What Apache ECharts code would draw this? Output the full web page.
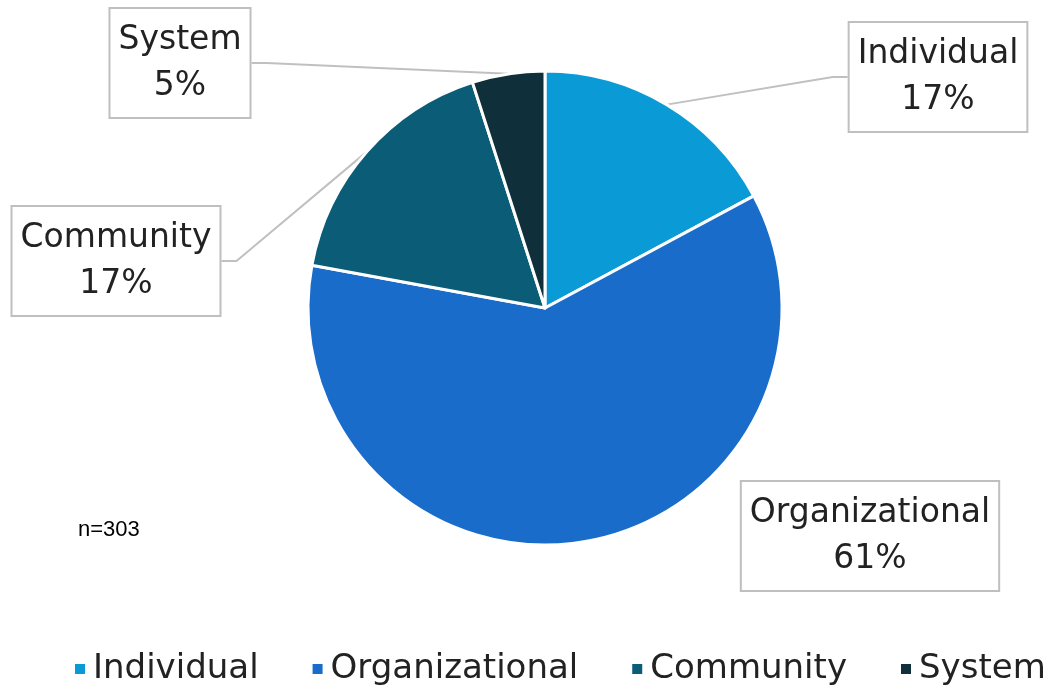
<!DOCTYPE html>
<html><head><meta charset="utf-8">
<script src="https://cdn.jsdelivr.net/npm/echarts@6/dist/echarts.min.js"></script>
<style>html,body{margin:0;padding:0;background:#fff}#c{width:1060px;height:695px}</style>
</head><body><div id="c"></div>
<script>
const categories = ['Individual', 'Organizational', 'Community', 'System'];
const counts = [52, 184, 52, 15];
const colors = ['#0a9bd6', '#1a6ccb', '#0b5c77', '#0f2f3b'];
const sampleNote = 'n=303';

// label box centres (layout, not data)
const labelCenters = {
  Individual: [938, 77],
  Organizational: [870, 536],
  Community: [116, 261],
  System: [180, 63]
};

const chart = echarts.init(document.getElementById('c'));
const FONT = '"DejaVu Sans", "Noto Sans", sans-serif';
chart.setOption({
  animation: false,
  color: colors,
  legend: {
    bottom: 4,
    left: 68,
    icon: 'rect',
    itemWidth: 12,
    itemHeight: 12,
    itemGap: 52,
    data: categories,
    textStyle: { fontSize: 34, fontFamily: FONT, color: '#222', padding: [0, 0, 0, 2] }
  },
  graphic: [{
    type: 'text', left: 78, top: 519,
    style: { text: sampleNote, font: '22px "Liberation Sans", Arial, sans-serif', fill: '#000' }
  }],
  series: [{
    type: 'pie',
    center: [545, 308],
    radius: 237,
    startAngle: 90,
    clockwise: true,
    percentPrecision: 0,
    itemStyle: { borderColor: '#fff', borderWidth: 3 },
    label: {
      show: true,
      formatter: '{b}\n{d}%',
      fontSize: 33,
      lineHeight: 46,
      fontFamily: FONT,
      color: '#222',
      backgroundColor: '#fff',
      borderColor: '#bfbfbf',
      borderWidth: 2,
      padding: [8, 8, 8, 8],
      align: 'center'
    },
    labelLine: { show: true, length: 15, length2: 15, lineStyle: { color: '#c0c0c0', width: 2 } },
    labelLayout: function (p) {
      const c = labelCenters[categories[p.dataIndex]];
      return { x: c[0], y: c[1], align: 'center', verticalAlign: 'middle' };
    },
    data: categories.map((n, i) => ({
      name: n, value: counts[i],
      labelLine: { show: n !== 'Organizational' }
    }))
  }]
});
</script></body></html>
